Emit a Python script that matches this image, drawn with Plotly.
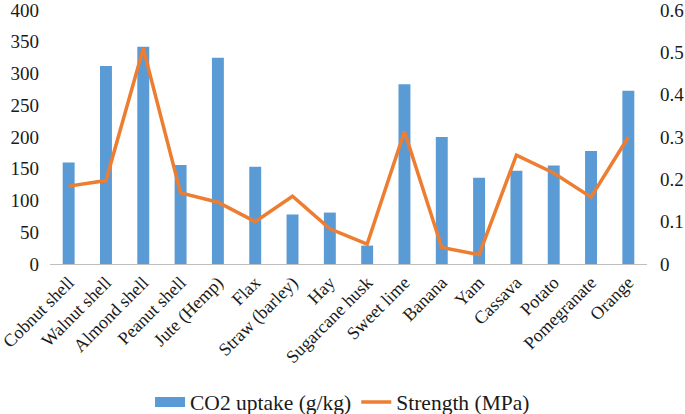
import plotly.graph_objects as go

categories = ["Cobnut shell", "Walnut shell", "Almond shell", "Peanut shell", "Jute (Hemp)",
              "Flax", "Straw (barley)", "Hay", "Sugarcane husk", "Sweet lime", "Banana",
              "Yam", "Cassava", "Potato", "Pomegranate", "Orange"]
co2_uptake = [160, 312, 342, 156, 325, 153, 78, 81, 29, 283, 200, 136, 147, 155, 178, 273]
strength = [0.184, 0.197, 0.509, 0.168, 0.146, 0.100, 0.160, 0.083, 0.047, 0.313, 0.039,
            0.022, 0.257, 0.215, 0.158, 0.300]
left_ticks = [0, 50, 100, 150, 200, 250, 300, 350, 400]
right_ticks = [0, 0.1, 0.2, 0.3, 0.4, 0.5, 0.6]
right_labels = ["0", "0.1", "0.2", "0.3", "0.4", "0.5", "0.6"]

font_family = "Liberation Serif, Times New Roman, serif"
blue = "#5B9BD5"
orange = "#ED7D31"

fig = go.Figure()
fig.add_trace(go.Bar(x=categories, y=co2_uptake, name="CO2 uptake (g/kg)",
                     marker=dict(color=blue, line=dict(width=0)), width=0.32,
                     yaxis="y", showlegend=False))
# legend entry for bars drawn as a wide block, like the original
fig.add_trace(go.Scatter(x=[None], y=[None], mode="lines", name="CO2 uptake (g/kg)",
                         line=dict(color=blue, width=10), yaxis="y"))
fig.add_trace(go.Scatter(x=categories, y=strength, name="Strength (MPa)", mode="lines",
                         line=dict(color=orange, width=3.5), yaxis="y2"))

fig.update_layout(
    width=685, height=414,
    margin=dict(l=50, r=38, t=10, b=150),
    paper_bgcolor="white", plot_bgcolor="white",
    font=dict(family=font_family, size=19, color="#1a1a1a"),
    showlegend=True,
    legend=dict(orientation="h", x=0.49, xanchor="center",
                yref="container", y=0.029, yanchor="middle",
                font=dict(size=21.5), traceorder="normal"),
    xaxis=dict(tickangle=-45, showline=True, linecolor="#BFBFBF", linewidth=1,
               ticks="", tickfont=dict(size=18), showgrid=False, automargin=False),
    yaxis=dict(range=[0, 400], tickvals=left_ticks, showgrid=False, zeroline=False,
               showline=False, ticks="", tickfont=dict(size=19), automargin=False,
               ticklabeloverflow="allow", ticklabelstandoff=10),
    yaxis2=dict(range=[0, 0.6], tickvals=right_ticks, ticktext=right_labels,
                overlaying="y", side="right", showgrid=False, zeroline=False,
                showline=False, ticks="", tickfont=dict(size=19), automargin=False,
                ticklabeloverflow="allow", ticklabelstandoff=12),
)
fig.write_html("out.html", config={"displayModeBar": False},
               post_script="document.body.style.margin='0px';")
